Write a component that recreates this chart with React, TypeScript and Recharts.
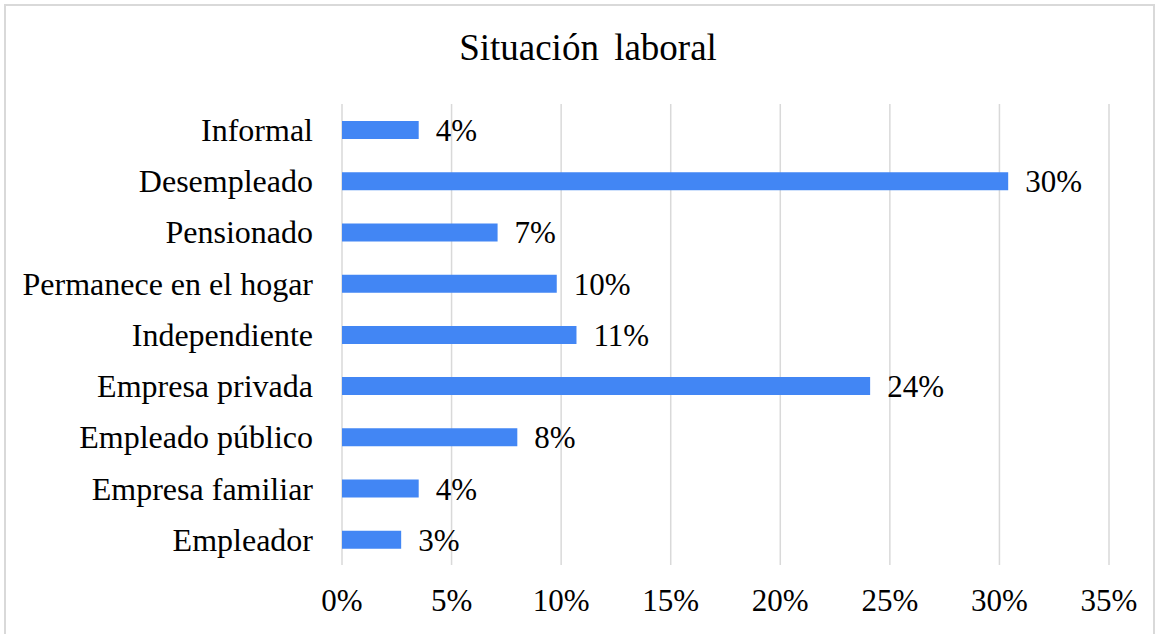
import { Bar, BarChart, CartesianGrid, LabelList, XAxis, YAxis } from 'recharts'

const categorias = [
  'Informal',
  'Desempleado',
  'Pensionado',
  'Permanece en el hogar',
  'Independiente',
  'Empresa privada',
  'Empleado público',
  'Empresa familiar',
  'Empleador',
]

const valores = [3.5, 30.4, 7.1, 9.8, 10.7, 24.1, 8.0, 3.5, 2.7]

const ticksX = [0, 5, 10, 15, 20, 25, 30, 35]

const FONT = 'Liberation Serif'
const AZUL = '#4286f4'

const data = categorias.map((nombre, i) => ({ nombre, valor: valores[i] }))

export default function App() {
  return (
    <div
      style={{
        position: 'fixed',
        left: 0,
        top: 0,
        width: 1161,
        height: 634,
        background: '#fff',
        overflow: 'hidden',
        fontFamily: FONT,
      }}
    >
      {/* marco gris del gráfico */}
      <div
        style={{
          position: 'absolute',
          left: 4,
          top: 4,
          width: 1151,
          height: 640,
          border: '2px solid #d9d9d9',
          boxSizing: 'border-box',
        }}
      />
      <div
        style={{
          position: 'absolute',
          left: 0,
          width: 1176,
          top: 26,
          textAlign: 'center',
          fontSize: 37,
          wordSpacing: 6,
          color: '#000',
        }}
      >
        Situación laboral
      </div>
      <div style={{ position: 'absolute', left: 0, top: 0 }}>
        <BarChart
          width={1161}
          height={634}
          data={data}
          layout="vertical"
          margin={{ top: 104, right: 52, bottom: 0, left: 0 }}
        >
          <CartesianGrid horizontal={false} stroke="#d9d9d9" strokeWidth={1.5} />
          <XAxis
            type="number"
            domain={[0, 35]}
            ticks={ticksX}
            tickFormatter={v => `${v}%`}
            axisLine={false}
            tickLine={false}
            tickSize={0}
            tickMargin={24}
            height={69}
            interval={0}
            tick={{ fill: '#000', fontSize: 31, fontFamily: FONT }}
          />
          <YAxis
            type="category"
            dataKey="nombre"
            width={342}
            axisLine={false}
            tickLine={false}
            tickSize={0}
            tickMargin={29}
            interval={0}
            tick={{ fill: '#000', fontSize: 32, fontFamily: FONT }}
          />
          <Bar dataKey="valor" fill={AZUL} barSize={18} isAnimationActive={false}>
            <LabelList
              dataKey="valor"
              position="right"
              offset={17}
              formatter={(v: number) => `${Math.round(v)}%`}
              style={{ fill: '#000', fontSize: 31, fontFamily: FONT }}
            />
          </Bar>
        </BarChart>
      </div>
    </div>
  )
}
